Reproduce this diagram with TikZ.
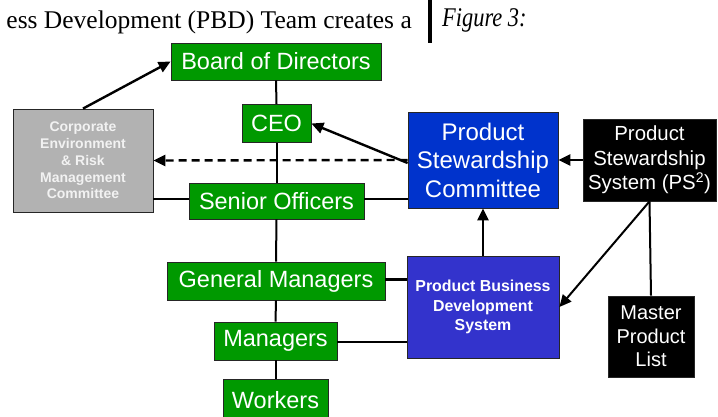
\documentclass[tikz,border=0pt]{standalone}
\usepackage{fontspec}
\setmainfont{Liberation Sans}
\newfontfamily\bodyserif{Liberation Serif}
\usetikzlibrary{arrows.meta,calc}
\definecolor{orggreen}{RGB}{0,153,0}
\definecolor{pscblue}{RGB}{0,51,204}
\definecolor{pbdsblue}{RGB}{51,51,204}
\definecolor{crmgray}{RGB}{178,178,178}
\definecolor{crmtext}{RGB}{242,242,242}
\begin{document}
\begin{tikzpicture}[x=1pt,y=-1pt,
  box/.style={draw=black!85, line width=0.8pt, inner sep=0pt, align=center, text=white},
  greenbox/.style={box, fill=orggreen, font=\fontsize{23.5}{26}\selectfont},
  link/.style={line width=2.6pt},
  trunk/.style={line width=2pt},
  arr/.style={line width=2.4pt, -{Triangle[length=12pt,width=11pt]}},
]
\clip (0,0) rectangle (718,417);
\fill[white] (0,0) rectangle (718,417);

% running text and figure caption
\node[anchor=base east, inner sep=0pt, font=\bodyserif\fontsize{25.5}{28}\selectfont] (runtext) at (412,29) {ess Development (PBD) Team creates a};
\fill (428,0) rectangle (432,43);
\node[anchor=base west, inner sep=0pt, xscale=0.83, font=\bodyserif\itshape\fontsize{27}{30}\selectfont] (caption) at (442,27) {Figure 3:};

% organisation chart
\node[greenbox, minimum width=210pt, minimum height=37pt] (board) at (276,61.5) {Board of Directors};
\node[greenbox, minimum width=69pt, minimum height=38pt] (ceo) at (276.5,123.5) {CEO};
\node[greenbox, minimum width=175pt, minimum height=36pt] (so) at (276.5,201) {Senior Officers};
\node[greenbox, minimum width=218pt, minimum height=38pt] (gm) at (276,281) {General Managers};
\node[greenbox, minimum width=123pt, minimum height=38pt] (mgr) at (275.5,341) {Managers};
\node[greenbox, minimum width=105pt, minimum height=42pt] (wrk) at (275.5,400) {Workers};

\node[box, fill=crmgray, text=crmtext, minimum width=140pt, minimum height=103pt,
  font=\bfseries\fontsize{14}{16.7}\selectfont] (corp) at (83,160.5)
  {Corporate\\Environment\\\& Risk\\Management\\Committee};

\node[box, fill=pscblue, minimum width=150pt, minimum height=96pt,
  font=\fontsize{24}{28.5}\selectfont] (psc) at (483,160)
  {Product\\Stewardship\\Committee};

\node[box, fill=black, minimum width=133pt, minimum height=82pt,
  font=\fontsize{20.4}{24.5}\selectfont] (ps2) at (649.5,160)
  {Product\\Stewardship\\System (PS\textsuperscript{\fontsize{14}{14}\selectfont 2})};

\node[box, fill=pbdsblue, minimum width=152pt, minimum height=102pt,
  font=\bfseries\fontsize{15.9}{19.5}\selectfont] (pbds) at (483,307)
  {Product Business\\Development\\System};

\node[box, fill=black, minimum width=86pt, minimum height=81pt,
  font=\fontsize{20}{23.5}\selectfont] (mpl) at (651,336.5)
  {Master\\Product\\List};

% reporting line
\draw[trunk] (board.south) -- (ceo.north);
\draw[trunk] (ceo.south) -- (so.north);
\draw[trunk] (so.south) -- (gm.north);
\draw[trunk] (gm.south) -- (mgr.north);
\draw[trunk] (mgr.south) -- (wrk.north);

% horizontal ties
\draw[link] (corp.east |- 0,199) -- (so.west |- 0,199);
\draw[link] (so.east |- 0,199) -- (psc.west |- 0,199);
\draw[link] (gm.east |- 0,279.5) -- (pbds.west |- 0,279.5);
\draw[link] (mgr.east |- 0,342) -- (pbds.west |- 0,342);

% information flows
\draw[arr] (corp.north) -- (board.west);
\draw[arr] ([yshift=-3pt]psc.west) -- (ceo.east);
\draw[arr, dash pattern=on 8pt off 5pt] (psc.west) -- (corp.east);
\draw[arr] (pbds.north) -- (psc.south);
\draw[arr] (ps2.west) -- (psc.east);
\draw[arr, line width=2pt] (ps2.south) -- (pbds.east);
\draw[trunk] (ps2.south) -- (mpl.north);
\end{tikzpicture}
\end{document}
